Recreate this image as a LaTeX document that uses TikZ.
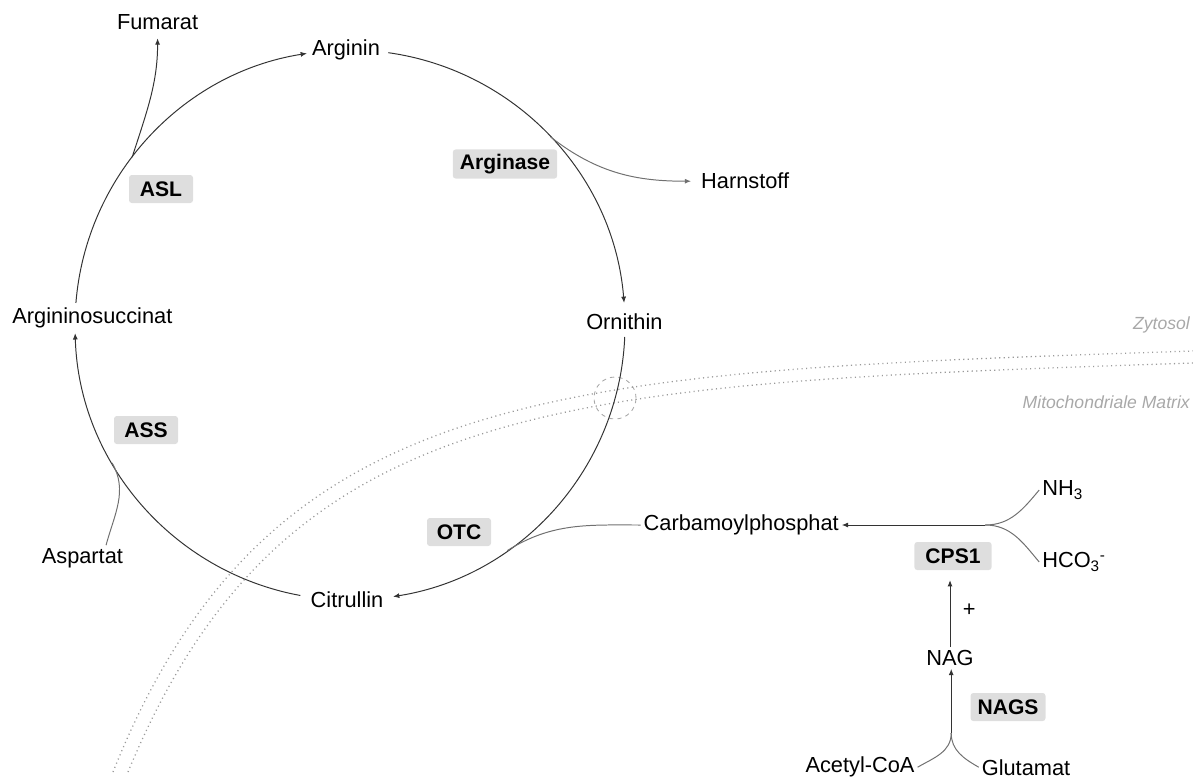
\documentclass[tikz,border=0pt]{standalone}
\usepackage{fontspec}
\setmainfont{Liberation Sans}
\usetikzlibrary{arrows.meta,positioning,calc}
\definecolor{ink}{HTML}{333333}
\definecolor{branch}{HTML}{707070}
\definecolor{enzfill}{HTML}{DEDEDE}
\definecolor{membr}{HTML}{9A9A9A}
\definecolor{regtext}{HTML}{A8A8A8}
\tikzset{
  metab/.style={inner sep=2pt, font=\fontsize{15.5}{18}\selectfont, text=black},
  enzyme/.style={
    fill=enzfill, rounded corners=2pt, inner xsep=5pt,
    minimum width=1.6cm, minimum height=0.7cm,
    font=\fontsize{15}{18}\selectfont\bfseries
  },
  arrow/.style={-{Latex[length=4.5pt,width=3.6pt]}, line width=0.7pt, draw=ink},
  sideline/.style={line width=0.7pt, draw=branch},
  sidearrow/.style={sideline, -{Latex[length=4.5pt,width=3.6pt]}},
  membrane/.style={draw=membr, line width=0.9pt, dash pattern=on 0.8pt off 2.4pt},
  region/.style={font=\fontsize{12.5}{15}\selectfont\itshape, text=regtext, anchor=east, inner sep=0pt}
}

\begin{document}
\begin{tikzpicture}
  \useasboundingbox (0,0) rectangle (29.825,-19.45);
  % membrane
  \draw[membrane] (2.825,-19.3) .. controls (6.75,-9.5) and (14.0,-9.3) .. (29.825,-8.775);
  \draw[membrane] (3.2,-19.3) .. controls (7.125,-9.8) and (14.2,-9.6) .. (29.825,-9.075);
  \draw[draw=regtext, dashed, line width=0.6pt] (15.375,-9.95) circle (0.525);
  \node[region] (zyt) at (29.75,-8.125) {Zytosol};
  \node[region] (mat) at (29.75,-10.05) {Mitochondriale Matrix};

  % cycle
  \coordinate (C) at (8.75,-8.125);
  \node[metab] (arg) at (8.65,-1.25) {Arginin};
  \node[metab] (orn) at (15.61,-8.05) {Ornithin};
  \node[metab] (cit) at (8.675,-15.0) {Citrullin};
  \node[metab] (asu) at (2.31,-7.95) {Argininosuccinat};
  \draw[arrow] ($(C)+(175.4:6.875)$) arc[start angle=175.4, end angle=99, radius=6.875];
  \draw[arrow] ($(C)+(82:6.875)$) arc[start angle=82, end angle=4.6, radius=6.875];
  \draw[arrow] ($(C)+(-2.5:6.875)$) arc[start angle=-2.5, end angle=-81, radius=6.875];
  \draw[arrow] ($(C)+(259.6:6.875)$) arc[start angle=259.6, end angle=181.7, radius=6.875];

  % side reactions
  \coordinate (jfum) at ($(C)+(142.4:6.875)$);
  \coordinate (jharn) at ($(C)+(43.1:6.875)$);
  \coordinate (jasp) at ($(C)+(210.1:6.875)$);
  \coordinate (jotc) at ($(C)+(-55.1:6.875)$);
  \node[metab] (fum) at (3.94,-0.55) {Fumarat};
  \node[metab] (harn) at (18.63,-4.53) {Harnstoff};
  \node[metab] (asp) at (2.06,-13.95) {Aspartat};
  \node[metab] (cp) at (18.53,-13.125) {Carbamoylphosphat};
  \draw[arrow, shorten >=4pt] (jfum) to[out=72, in=-90] (fum.south);
  \draw[sidearrow, shorten >=5pt] (jharn) to[out=-38, in=180] (harn.west);
  \draw[sideline] ([xshift=-0.5cm]asp.north east) to[out=75, in=-60] (jasp);
  \draw[sideline] (cp.west) to[out=180, in=32] (jotc);

  % enzymes
  \node[enzyme] (asl) at (4.025,-4.725) {ASL};
  \node[enzyme] (argase) at (12.625,-4.1) {Arginase};
  \node[enzyme] (ass) at (3.65,-10.75) {ASS};
  \node[enzyme] (otc) at (11.475,-13.3) {OTC};

  % carbamoylphosphate synthesis
  \coordinate (jcps) at (24.63,-13.125);
  \node[metab, anchor=west] (nh3) at (25.98,-12.25) {NH\textsubscript{3}};
  \node[metab, anchor=west] (hco) at (25.98,-14.05) {HCO\textsubscript{3}\textsuperscript{-}};
  \draw[arrow] (jcps) -- (cp.east);
  \draw[sideline] (jcps) to[out=0, in=-130] (nh3.west);
  \draw[sideline] (jcps) to[out=0, in=130] (hco.west);
  \node[enzyme, minimum width=1.93cm] (cps1) at (23.825,-13.9) {CPS1};

  % NAG
  \node[metab] (nag) at (23.75,-16.45) {NAG};
  \node[metab] (plus) at (24.23,-15.25) {+};
  \node[enzyme] (nags) at (25.2,-17.675) {NAGS};
  \node[metab] (acoa) at (21.5,-19.18) {Acetyl-CoA};
  \node[metab] (glu) at (25.65,-19.18) {Glutamat};
  \coordinate (jnag) at (23.78,-18.33);
  \draw[arrow, shorten >=7pt] (nag.north) -- (nag.north |- cps1.south);
  \draw[arrow] (jnag) -- (jnag |- nag.south);
  \draw[sideline] (jnag) to[out=-90, in=30] (acoa.east);
  \draw[sideline] (jnag) to[out=-90, in=150] (glu.west);
\end{tikzpicture}
\end{document}
